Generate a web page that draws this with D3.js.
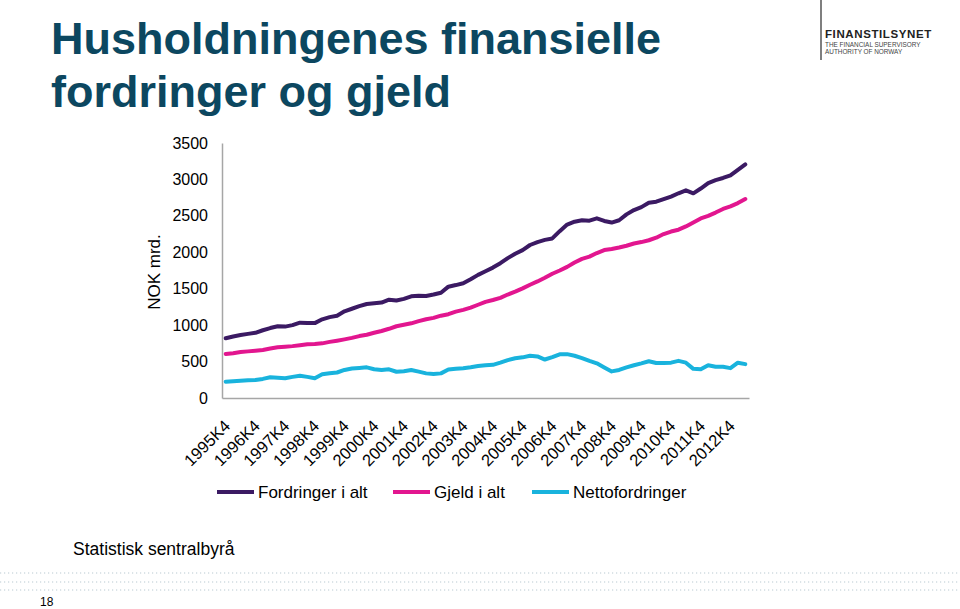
<!DOCTYPE html>
<html>
<head>
<meta charset="utf-8">
<script src="https://cdn.jsdelivr.net/npm/d3@7/dist/d3.min.js"></script>
<style>
  body { margin: 0; background: #fff; }
  svg { display: block; font-family: "Liberation Sans", Arial, sans-serif; }
</style>
</head>
<body>
<svg id="chart" width="960" height="609"></svg>
<script>
// kvartaler 1995K4 - 2013K2
var quarters = [];
for (var y = 1995; y <= 2013; y++) {
  for (var q = 1; q <= 4; q++) {
    if ((y == 1995 && q < 4) || (y == 2013 && q > 2)) continue;
    quarters.push(y + "K" + q);
  }
}

var tickLabels = ["1995K4","1996K4","1997K4","1998K4","1999K4","2000K4","2001K4","2002K4","2003K4",
  "2004K4","2005K4","2006K4","2007K4","2008K4","2009K4","2010K4","2011K4","2012K4"];
var yTicks = [0, 500, 1000, 1500, 2000, 2500, 3000, 3500];

var fordringer = [820,845,865,880,895,930,960,985,980,1000,1034,1030,1028,1080,1110,1130,1190,1225,1260,1290,
  1300,1310,1350,1338,1360,1395,1404,1400,1420,1445,1528,1550,1575,1630,1690,1740,1790,1850,1920,1980,
  2030,2100,2140,2170,2190,2290,2380,2420,2440,2434,2466,2430,2408,2440,2520,2580,2620,2680,2695,2730,
  2765,2810,2850,2809,2875,2950,2990,3020,3055,3130,3207];
var gjeld = [604,615,630,640,650,660,680,696,705,712,725,738,742,750,770,787,805,825,850,868,
  895,920,950,985,1005,1025,1055,1080,1100,1130,1150,1185,1210,1240,1280,1320,1345,1375,1420,1460,
  1505,1555,1600,1650,1705,1750,1800,1860,1910,1940,1990,2030,2045,2065,2090,2120,2140,2165,2200,2250,
  2285,2310,2355,2410,2465,2500,2545,2595,2630,2675,2731];
var netto = [224,230,236,242,247,262,284,278,272,290,306,290,272,325,340,350,385,405,412,421,
  395,385,393,360,368,384,362,338,330,338,390,400,408,421,438,450,455,485,520,545,
  558,580,570,528,560,600,602,580,548,510,476,420,365,385,420,450,476,505,480,482,
  485,510,485,400,395,450,430,428,410,485,465];

var seriesNames = ["Fordringer i alt", "Gjeld i alt", "Nettofordringer"];
var colors = ["#3b1a63", "#e2168f", "#19b3dd"];

var svg = d3.select("#chart");

// tittel
var title = svg.append("text")
  .style("font-size", "45px").style("font-weight", "bold")
  .style("fill", "#0c4760");
title.append("tspan").attr("x", 51).attr("y", 54).text("Husholdningenes finansielle");
title.append("tspan").attr("x", 51).attr("y", 107).text("fordringer og gjeld");

// logo
svg.append("line").attr("x1", 821).attr("x2", 821).attr("y1", 0).attr("y2", 60)
  .style("stroke", "#555").style("stroke-width", 1.5);
svg.append("text").attr("x", 825).attr("y", 38).text("FINANSTILSYNET")
  .style("font-size", "11.5px").style("font-weight", "bold").style("fill", "#222")
  .style("letter-spacing", "0.6px");
svg.append("text").attr("x", 825).attr("y", 47).text("THE FINANCIAL SUPERVISORY")
  .style("font-size", "6.4px").style("fill", "#444");
svg.append("text").attr("x", 825).attr("y", 54).text("AUTHORITY OF NORWAY")
  .style("font-size", "6.4px").style("fill", "#444");

var x = d3.scalePoint().domain(quarters).range([222, 749]).padding(0.5);
var yScale = d3.scaleLinear().domain([0, 3500]).range([398, 143]);

// akser
var yAxis = svg.append("g").attr("transform", "translate(222,0)")
  .call(d3.axisLeft(yScale).tickValues(yTicks).tickFormat(d3.format("d")).tickSize(0).tickPadding(14));
yAxis.select(".domain").style("stroke", "#a6a6a6").style("stroke-width", 1.5);
yAxis.selectAll("text").style("font-size", "16px").style("fill", "#000")
  .style("font-family", "Liberation Sans, Arial, sans-serif");

var xAxis = svg.append("g").attr("transform", "translate(0,398)")
  .call(d3.axisBottom(x).tickValues(tickLabels).tickSize(0).tickSizeOuter(0));
xAxis.select(".domain").style("stroke", "#a6a6a6").style("stroke-width", 1.5);
xAxis.selectAll("text")
  .style("font-size", "16.5px").style("fill", "#000")
  .style("font-family", "Liberation Sans, Arial, sans-serif")
  .attr("text-anchor", "end")
  .attr("dy", null).attr("y", 0)
  .attr("transform", "translate(5,29) rotate(-45)");

svg.append("text")
  .attr("transform", "translate(160,272) rotate(-90)")
  .attr("text-anchor", "middle")
  .style("font-size", "17px")
  .text("NOK mrd.");

// linjer
var line = d3.line()
  .x(function(d, i) { return x(quarters[i]); })
  .y(function(d) { return yScale(d); });

[fordringer, gjeld, netto].forEach(function(s, k) {
  svg.append("path").datum(s)
    .attr("d", line)
    .style("fill", "none")
    .style("stroke", colors[k])
    .style("stroke-width", 4)
    .style("stroke-linejoin", "round")
    .style("stroke-linecap", "round");
});

// legende
var legX = [217, 393, 532];
seriesNames.forEach(function(n, k) {
  svg.append("line").attr("x1", legX[k]).attr("x2", legX[k] + 37)
    .attr("y1", 492).attr("y2", 492)
    .style("stroke", colors[k]).style("stroke-width", 4);
  svg.append("text").attr("x", legX[k] + 41).attr("y", 498)
    .style("font-size", "17px").text(n);
});

svg.append("text").attr("x", 73).attr("y", 555)
  .style("font-size", "17.5px").text("Statistisk sentralbyrå");

// prikkede rader nederst
[573, 582, 590].forEach(function(yy) {
  svg.append("line").attr("x1", 0).attr("x2", 960).attr("y1", yy).attr("y2", yy)
    .style("stroke", "#b9c9d2").style("stroke-width", 1.2)
    .style("stroke-dasharray", "1.2,2.8");
});

svg.append("text").attr("x", 40).attr("y", 606)
  .style("font-size", "12px").text("18");
</script>
</body>
</html>
